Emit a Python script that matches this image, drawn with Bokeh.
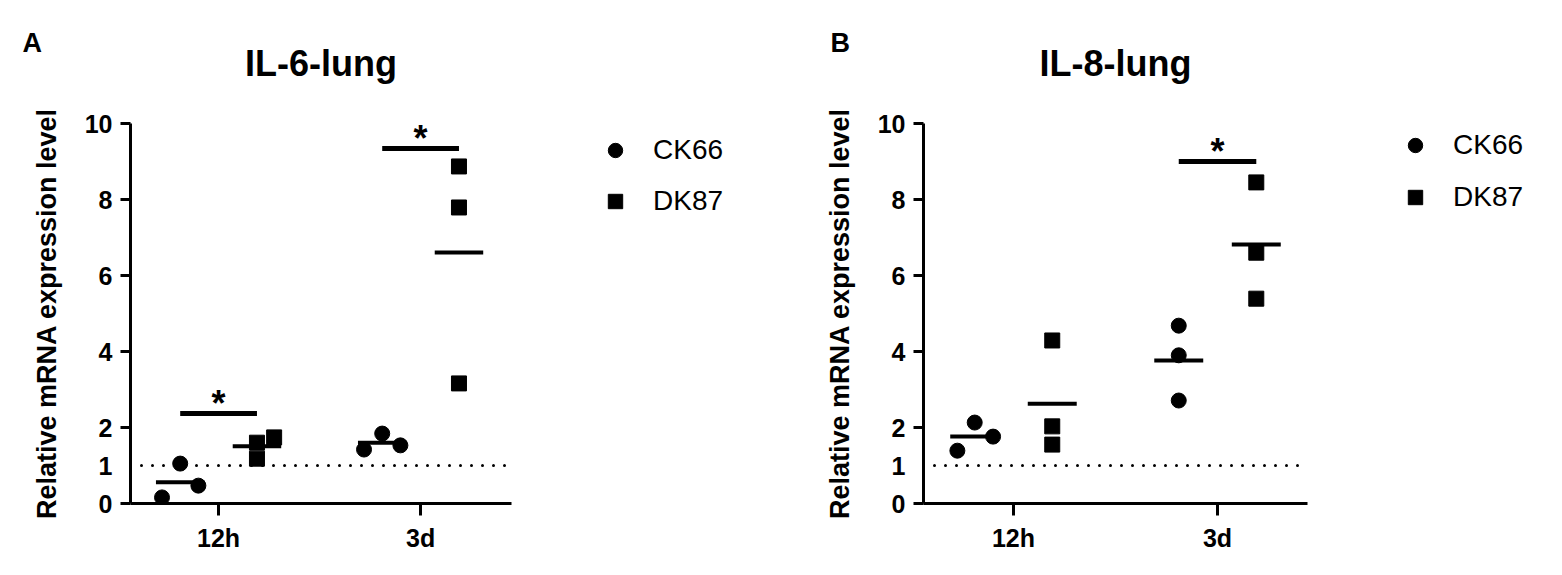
import numpy as np
from bokeh.plotting import figure
from bokeh.models import Range1d, FixedTicker, Span, Legend, LegendItem, Title, Label, ColumnDataSource
from bokeh.layouts import row
from bokeh.embed import file_html
from bokeh.resources import INLINE
from bokeh.core.properties import value

# ---------------- data ----------------
times = ["12h", "3d"]
series = ["CK66", "DK87"]
y_ticks = [0, 2, 4, 6, 8, 10]
y_extra_label = [1]          # labelled value without a tick mark
reference_level = 1.0

il6_ck66_12h = [0.16, 1.05, 0.47]
il6_ck66_3d = [1.42, 1.84, 1.53]
il6_dk87_12h = [1.60, 1.18, 1.74]
il6_dk87_3d = [3.16, 8.87, 7.79]
il6_sig_y = [2.37, 9.34]

il8_ck66_12h = [1.39, 2.13, 1.76]
il8_ck66_3d = [4.68, 3.90, 2.71]
il8_dk87_12h = [4.29, 2.03, 1.55]
il8_dk87_3d = [8.45, 6.60, 5.39]
il8_sig_y = [None, 9.00]

# ---------------- style ----------------
FONT = "Liberation Sans"
DODGE = 0.19
MEAN_HW = 0.12
JIT_A = {"ck": [[-0.09, 0.0, 0.09], [-0.09, 0.0, 0.09]],
         "dk": [[0.0, 0.0, 0.085], [0.0, 0.0, 0.0]]}
JIT_B = {"ck": [[-0.085, 0.0, 0.09], [0.0, 0.0, 0.0]],
         "dk": [[0.0, 0.0, 0.0], [0.0, 0.0, 0.0]]}
FIG_H = 563


def make_panel(letter, title, ck, dk, sig, jit, xr, borders, frame, letter_px):
    bl, br, bt, bb = borders
    fw, fh = frame
    ymin, ymax = 0, 10
    ppx = fw / (xr[1] - xr[0])
    ppy = fh / (ymax - ymin)
    p = figure(frame_width=fw, frame_height=fh, min_border_left=bl, min_border_right=br,
               min_border_top=bt, min_border_bottom=bb, output_backend="svg",
               toolbar_location=None, x_range=Range1d(*xr), y_range=Range1d(ymin, ymax))
    p.add_layout(Title(text=title, align="center", text_font=FONT, text_font_size="36px",
                       text_font_style="bold", text_color="black", standoff=80), "above")
    p.outline_line_color = None
    p.grid.visible = False
    p.background_fill_color = "white"
    p.border_fill_color = "white"

    for ax in (p.xaxis[0], p.yaxis[0]):
        ax.axis_line_width = 3
        ax.major_tick_line_width = 3
        ax.major_tick_in = 0
        ax.minor_tick_line_color = None
        ax.major_label_text_font = FONT
        ax.major_label_text_font_style = "bold"
        ax.major_label_text_color = "black"
    p.xaxis.ticker = FixedTicker(ticks=list(range(len(times))))
    p.xaxis.major_label_overrides = {i: t for i, t in enumerate(times)}
    p.xaxis.major_tick_out = 12
    p.xaxis.major_label_standoff = 8
    p.xaxis.major_label_text_font_size = "25px"
    p.yaxis.ticker = FixedTicker(ticks=y_ticks)
    p.yaxis.major_tick_out = 10
    p.yaxis.major_label_standoff = 8
    p.yaxis.major_label_text_font_size = "25px"
    p.yaxis.axis_label = "Relative mRNA expression level"
    p.yaxis.axis_label_text_font = FONT
    p.yaxis.axis_label_text_font_style = "bold"
    p.yaxis.axis_label_text_font_size = "27px"
    p.yaxis.axis_label_text_color = "black"
    p.yaxis.axis_label_standoff = 20

    # tick label without tick mark, and panel letter (kept in a side panel so they are not clipped)
    for v in y_extra_label:
        p.add_layout(Label(x=xr[0] - 18 / ppx, y=v, text=str(v), text_align="right",
                           text_baseline="middle", text_font=FONT, text_font_style="bold",
                           text_font_size="25px", text_color="black"), "right")
    p.add_layout(Label(x=xr[0] - letter_px[0] / ppx, y=ymax + letter_px[1] / ppy, text=letter,
                       text_align="left", text_baseline="top", text_font=FONT,
                       text_font_style="bold", text_font_size="27px", text_color="black"), "right")

    p.add_layout(Span(location=reference_level, dimension="width", line_color="black",
                      line_width=3, line_dash="0 11", line_cap="round"))

    for vals, key, off, marker in ((ck, "ck", -DODGE, "circle"), (dk, "dk", DODGE, "square")):
        xs, ys = [], []
        mx0, mx1, my = [], [], []
        for ti, v in enumerate(vals):
            c = ti + off
            xs += [c + j for j in jit[key][ti]]
            ys += list(v)
            mx0.append(c - MEAN_HW)
            mx1.append(c + MEAN_HW)
            my.append(float(np.mean(v)))
        src = ColumnDataSource(dict(x=xs, y=ys))
        p.scatter("x", "y", source=src, marker=marker, size=15, color="black")
        p.segment(x0=mx0, x1=mx1, y0=my, y1=my, line_color="black", line_width=4)

    bx0, bx1, by, sx = [], [], [], []
    for ti, s in enumerate(sig):
        if s is None:
            continue
        bx0.append(ti - DODGE)
        bx1.append(ti + DODGE)
        by.append(s)
        sx.append(ti)
    p.segment(x0=bx0, x1=bx1, y0=by, y1=by, line_color="black", line_width=5)
    p.text(x=sx, y=by, text=["*"] * len(sx), text_align="center", text_baseline="alphabetic",
           text_font=value(FONT), text_font_style="bold", text_font_size="36px",
           text_color="black", y_offset=-10)
    return p


def make_legend(width, loc, spacing):
    q = figure(width=width, height=FIG_H, min_border=0, x_axis_location=None,
               y_axis_location=None, toolbar_location=None, output_backend="svg",
               x_range=Range1d(0, 1), y_range=Range1d(0, 1))
    q.outline_line_color = None
    q.grid.visible = False
    # placeholder (undrawn NaN) points: the legend only needs the glyph styles
    nan_src = dict(x=np.array([np.nan]), y=np.array([np.nan]))
    r_ck = q.scatter("x", "y", source=ColumnDataSource(nan_src), marker="circle", size=15,
                     color="black")
    r_dk = q.scatter("x", "y", source=ColumnDataSource(dict(nan_src)), marker="square", size=15,
                     color="black")
    leg = Legend(items=[LegendItem(label=series[0], renderers=[r_ck]),
                        LegendItem(label=series[1], renderers=[r_dk])],
                 location=loc, orientation="vertical")
    leg.glyph_width = 36
    leg.glyph_height = 36
    leg.label_standoff = 20
    leg.spacing = spacing
    leg.padding = 0
    leg.margin = 0
    leg.border_line_color = None
    leg.background_fill_alpha = 0
    leg.label_text_font = FONT
    leg.label_text_font_size = "28px"
    leg.label_text_color = "black"
    q.add_layout(leg)
    return q


pA = make_panel("A", "IL-6-lung",
                [il6_ck66_12h, il6_ck66_3d], [il6_dk87_12h, il6_dk87_3d], il6_sig_y, JIT_A,
                (-0.436, 1.45), (130, 50, 123, 60), (381, 380), (108, 96))
lA = make_legend(239, (36, 284), 15)
pB = make_panel("B", "IL-8-lung",
                [il8_ck66_12h, il8_ck66_3d], [il8_dk87_12h, il8_dk87_3d], il8_sig_y, JIT_B,
                (-0.441, 1.441), (123, 50, 123, 60), (384, 380), (93, 96))
lB = make_legend(197, (40, 288), 16)

layout = row(pA, lA, pB, lB)
open("out.html", "w").write(file_html(layout, INLINE))
